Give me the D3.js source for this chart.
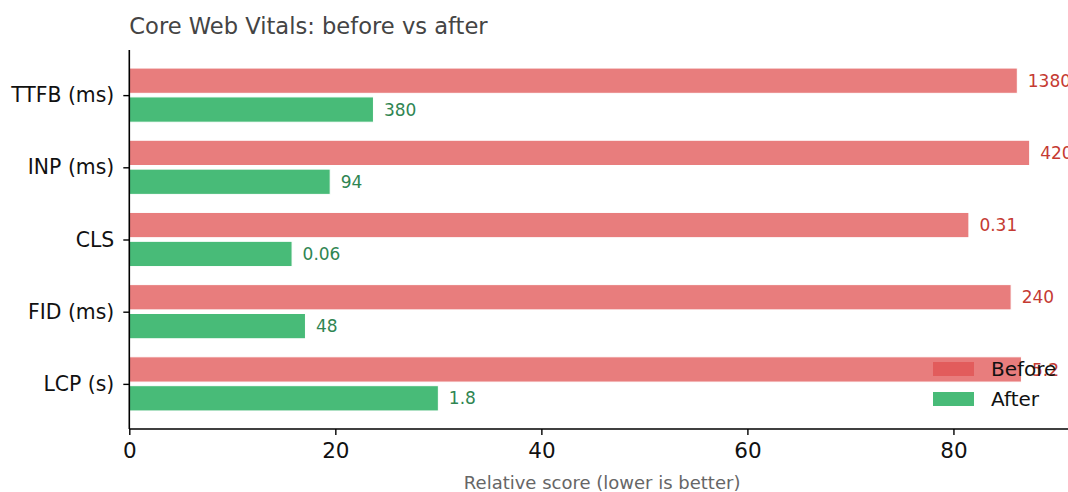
<!DOCTYPE html>
<html>
<head>
<meta charset="utf-8">
<script src="https://cdn.jsdelivr.net/npm/d3@7"></script>
<style>
  body { margin: 0; background: #fff; }
  svg { display: block; font-family: "DejaVu Sans", sans-serif; }
</style>
</head>
<body>
<svg id="chart" width="1068" height="492"></svg>
<script>
// bottom to top, as plotted
const categories = ["LCP (s)", "FID (ms)", "CLS", "INP (ms)", "TTFB (ms)"];
const beforeScore = [86.6, 85.6, 81.5, 87.4, 86.2];
const afterScore = [30.0, 17.1, 15.8, 19.5, 23.7];
const beforeLabel = ["5.2", "240", "0.31", "420", "1380"];
const afterLabel = ["1.8", "48", "0.06", "94", "380"];
const xTicks = [0, 20, 40, 60, 80];

const svg = d3.select("#chart");
const M = { left: 129.3, right: 1075, top: 50, bottom: 429 };

const x = d3.scaleLinear().domain([0, 91.8]).range([M.left, M.right]);
const y = d3.scaleLinear().domain([-0.625, categories.length - 0.375]).range([M.bottom, M.top]);
const unit = y(0) - y(1);
const barH = 0.35 * unit, off = 0.2 * unit;

const colors = {
    before: "#e05252",
    after: "#48bb78",
    beforeText: "#c53a32",
    afterText: "#2f8552"
};

const series = [
    { key: "before", scores: beforeScore, labels: beforeLabel, shift: off, opacity: 0.75 },
    { key: "after", scores: afterScore, labels: afterLabel, shift: -off, opacity: 1 }
];

const g = svg.append("g");

series.forEach(s => {
    g.selectAll(null).data(s.scores).enter().append("rect")
        .attr("x", x(0))
        .attr("y", (d, i) => y(i) - s.shift - barH / 2)
        .attr("width", d => x(d) - x(0))
        .attr("height", barH)
        .attr("fill", colors[s.key])
        .attr("fill-opacity", s.opacity)
        .attr("stroke", "#fff")
        .attr("stroke-width", 1);
});

// axes
const xAxis = d3.axisBottom(x).tickValues(xTicks).tickSize(6).tickPadding(8).tickFormat(d3.format("d"));
const xg = svg.append("g").attr("transform", `translate(0,${M.bottom})`).call(xAxis);
xg.select(".domain").attr("stroke", "#000").attr("stroke-width", 1.6).attr("d", `M${M.left},0H${M.right}`);
xg.selectAll(".tick line").attr("stroke", "#000").attr("stroke-width", 1.4);
xg.selectAll(".tick text").attr("fill", "#111").style("font-size", "21.5px").style("font-family", "DejaVu Sans");

const yAxis = d3.axisLeft(y).tickValues(d3.range(categories.length)).tickFormat(i => categories[i]).tickSize(6).tickPadding(9);
const yg = svg.append("g").attr("transform", `translate(${M.left},0)`).call(yAxis);
yg.select(".domain").attr("stroke", "#000").attr("stroke-width", 1.6).attr("d", `M0,${M.top}V${M.bottom}`);
yg.selectAll(".tick line").attr("stroke", "#000").attr("stroke-width", 1.4);
yg.selectAll(".tick text").attr("fill", "#111").style("font-size", "20.4px").style("font-family", "DejaVu Sans");

// value labels
series.forEach(s => {
    g.selectAll(null).data(s.scores).enter().append("text")
        .attr("x", d => x(d) + 10.5)
        .attr("y", (d, i) => y(i) - s.shift)
        .attr("dy", "0.36em")
        .attr("fill", colors[s.key + "Text"])
        .style("font-size", "17px")
        .text((d, i) => s.labels[i]);
});

// title and axis label
svg.append("text").attr("x", M.left).attr("y", 34).attr("fill", "#444")
    .style("font-size", "22.6px").text("Core Web Vitals: before vs after");
svg.append("text").attr("x", (M.left + M.right) / 2).attr("y", 489).attr("text-anchor", "middle")
    .attr("fill", "#666").style("font-size", "18px").text("Relative score (lower is better)");

// legend
const legend = svg.append("g").attr("transform", "translate(933,362)");
[["Before", "before", 0.75], ["After", "after", 1]].forEach(([name, key, op], i) => {
    legend.append("rect").attr("x", 0).attr("y", i * 30).attr("width", 41).attr("height", 14)
        .attr("fill", colors[key]).attr("fill-opacity", op);
    legend.append("text").attr("x", 58).attr("y", i * 30 + 7).attr("dy", "0.36em")
        .attr("fill", "#111").style("font-size", "20px").text(name);
});
</script>
</body>
</html>
